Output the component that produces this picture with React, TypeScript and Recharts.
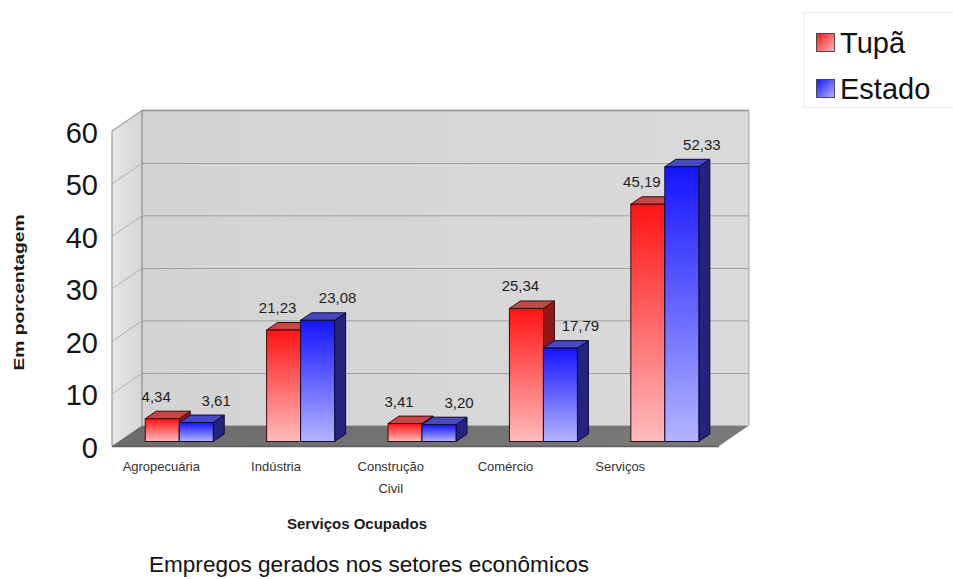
import React from 'react';
import { BarChart, Bar, XAxis, YAxis, ReferenceArea, LabelList, Legend } from 'recharts';

// Setores econômicos e participação no emprego (%)
const setores = ['Agropecuária', 'Indústria', 'Construção Civil', 'Comércio', 'Serviços'];
const tupa = [4.34, 21.23, 3.41, 25.34, 45.19];
const estado = [3.61, 23.08, 3.2, 17.79, 52.33];
const yTicks = [0, 10, 20, 30, 40, 50, 60];

const data = setores.map((setor, i) => ({ setor, tupa: tupa[i], estado: estado[i] }));

const FONT = "'Liberation Sans', Arial, Helvetica, sans-serif";

type Serie = {
  key: string;
  name: string;
  top: string;
  bottom: string;
  side: string;
  cap: string;
  edge: string;
  labelDx: number;
};

const SERIES: Serie[] = [
  { key: 'tupa', name: 'Tupã', top: '#ff1414', bottom: '#ffbcbc', side: '#8f1818', cap: '#c74646', edge: '#3a0a0a', labelDx: -6 },
  { key: 'estado', name: 'Estado', top: '#1414ff', bottom: '#b4b4ff', side: '#24247c', cap: '#4848bf', edge: '#0a0a3a', labelDx: 20 },
];

// depth of each 3D bar
const BAR_DX = 11;
const BAR_DY = -7.5;
// the bars stand a little behind the front edge of the floor
const FRONT = { dx: -7, dy: 4.5 };
const BACK = { dx: 23, dy: -16 };

const fmt = (v: number) => v.toFixed(2).replace('.', ',');

const makeBarShape = (s: Serie) => (props: any) => {
  const { x, y, width, height } = props;
  if (width == null || height == null || width <= 0) return <g />;
  const r = x + width;
  const b = y + height;
  return (
    <g>
      <polygon
        points={`${r},${y} ${r + BAR_DX},${y + BAR_DY} ${r + BAR_DX},${b + BAR_DY} ${r},${b}`}
        fill={s.side}
        stroke={s.edge}
        strokeWidth={1}
        strokeLinejoin="round"
      />
      <polygon
        points={`${x},${y} ${x + BAR_DX},${y + BAR_DY} ${r + BAR_DX},${y + BAR_DY} ${r},${y}`}
        fill={s.cap}
        stroke={s.edge}
        strokeWidth={1}
        strokeLinejoin="round"
      />
      <rect x={x} y={y} width={width} height={height} fill={`url(#face-${s.key})`} stroke={s.edge} strokeWidth={1} />
    </g>
  );
};

const makeValueLabel = (s: Serie) => (props: any) => {
  const { x, y, width, value } = props;
  if (value == null) return null;
  return (
    <text
      x={x + width / 2 + s.labelDx}
      y={y - 17}
      textAnchor="middle"
      fontSize={15}
      fontFamily={FONT}
      fill="#1e1e1e"
    >
      {fmt(Number(value))}
    </text>
  );
};

// one horizontal band of the 3D box (back wall slice, left wall slice, floor for the lowest band)
const makeWallBand = (withFloor: boolean) => (props: any) => {
  const { x, y, width, height } = props;
  const b = y + height;
  const fx = x + FRONT.dx;
  const bx = x + BACK.dx;
  return (
    <g>
      <rect x={bx} y={y + BACK.dy} width={width} height={height} fill="url(#backwall)" />
      <polygon
        points={`${fx},${y + FRONT.dy} ${bx},${y + BACK.dy} ${bx},${b + BACK.dy} ${fx},${b + FRONT.dy}`}
        fill="url(#sidewall)"
      />
      <line x1={bx} y1={y + BACK.dy} x2={bx + width} y2={y + BACK.dy} stroke="#8e8e8e" strokeWidth={1.3} />
      <line x1={fx} y1={y + FRONT.dy} x2={bx} y2={y + BACK.dy} stroke="#a2a2a2" strokeWidth={1.2} />
      <line x1={bx} y1={y + BACK.dy} x2={bx} y2={b + BACK.dy} stroke="#8a8a8a" strokeWidth={1.2} />
      <line x1={bx + width} y1={y + BACK.dy} x2={bx + width} y2={b + BACK.dy} stroke="#b0b0b0" strokeWidth={1.2} />
      <line x1={fx} y1={y + FRONT.dy} x2={fx} y2={b + FRONT.dy} stroke="#9a9a9a" strokeWidth={1.2} />
      {withFloor && (
        <g>
          <polygon
            points={`${fx},${b + FRONT.dy} ${fx + width},${b + FRONT.dy} ${bx + width},${b + BACK.dy} ${bx},${b + BACK.dy}`}
            fill="url(#floor)"
          />
          <line x1={fx} y1={b + FRONT.dy + 0.5} x2={fx + width} y2={b + FRONT.dy + 0.5} stroke="#5e5e5e" strokeWidth={1.5} />
        </g>
      )}
    </g>
  );
};

const YTick = (props: any) => {
  const { x, y, payload } = props;
  return (
    <text x={x} y={y + 6} textAnchor="end" dominantBaseline="central" fontSize={29} fontFamily={FONT} fill="#161616">
      {payload.value}
    </text>
  );
};

const XTick = (props: any) => {
  const { x, y, payload } = props;
  const lines = String(payload.value).split(' ');
  // category names sit on the front edge, which is drawn slightly narrower than the bar plane
  const cx = x * 0.945 - 8.5;
  return (
    <text x={cx} y={y + 29} textAnchor="middle" fontSize={13} fontFamily={FONT} fill="#333">
      {lines.map((ln, i) => (
        <tspan key={ln} x={cx} dy={i === 0 ? 0 : 22}>
          {ln}
        </tspan>
      ))}
    </text>
  );
};

const XTitle = (props: any) => {
  const vb = props.viewBox || { x: 0, y: 0 };
  return (
    <text
      x={vb.x + 238}
      y={vb.y + 87}
      textAnchor="middle"
      fontSize={15}
      fontWeight="bold"
      fontFamily={FONT}
      fill="#1a1a1a"
    >
      Serviços Ocupados
    </text>
  );
};

const YTitle = (props: any) => {
  const vb = props.viewBox || { x: 0, y: 0 };
  const cx = vb.x + 19;
  const cy = vb.y + 166;
  return (
    <text
      x={cx}
      y={cy}
      transform={`rotate(-90 ${cx} ${cy})`}
      textAnchor="middle"
      dominantBaseline="central"
      fontSize={14}
      fontWeight="bold"
      fontFamily={FONT}
      fill="#1a1a1a"
      textLength={156}
      lengthAdjust="spacingAndGlyphs"
    >
      Em porcentagem
    </text>
  );
};

const LegendBox = (props: any) => {
  const payload: any[] = props.payload || [];
  const items = SERIES.map((s) => {
    const p = payload.find((e) => e.dataKey === s.key);
    return { s, label: p ? p.value : s.name };
  });
  return (
    <svg width={152} height={96} style={{ display: 'block' }}>
      <defs>
        {SERIES.map((s) => (
          <linearGradient key={s.key} id={`legend-${s.key}`} x1="0" y1="0" x2="1" y2="1">
            <stop offset="0%" stopColor={s.top} />
            <stop offset="100%" stopColor={s.bottom} />
          </linearGradient>
        ))}
      </defs>
      <rect x={0.5} y={0.5} width={160} height={95} fill="#ffffff" stroke="#ececec" />
      {items.map(({ s, label }, i) => (
        <g key={s.key}>
          <rect x={13.5} y={21.5 + i * 46} width={18} height={18} fill={`url(#legend-${s.key})`} stroke="#4a4a4a" />
          <text x={37} y={31 + i * 46} dominantBaseline="central" fontSize={29} fontFamily={FONT} fill="#111">
            {label}
          </text>
        </g>
      ))}
    </svg>
  );
};

export default function App() {
  return (
    <div style={{ position: 'absolute', left: 0, top: 0, width: 953, height: 579, background: '#ffffff' }}>
      <BarChart
        width={953}
        height={579}
        data={data}
        margin={{ top: 126.5, right: 227, bottom: 0, left: 0 }}
        barCategoryGap="21.6%"
        barGap={0}
      >
        <defs>
          {SERIES.map((s) => (
            <linearGradient key={s.key} id={`face-${s.key}`} x1="0" y1="0" x2="0" y2="1">
              <stop offset="0%" stopColor={s.top} />
              <stop offset="100%" stopColor={s.bottom} />
            </linearGradient>
          ))}
          <linearGradient id="backwall" x1="0" y1="0" x2="1" y2="0">
            <stop offset="0%" stopColor="#d3d3d3" />
            <stop offset="100%" stopColor="#dadada" />
          </linearGradient>
          <linearGradient id="sidewall" x1="0" y1="0" x2="1" y2="0">
            <stop offset="0%" stopColor="#e6e6e6" />
            <stop offset="100%" stopColor="#d6d6d6" />
          </linearGradient>
          <linearGradient id="floor" x1="0" y1="0" x2="1" y2="0">
            <stop offset="0%" stopColor="#6c6c6c" />
            <stop offset="100%" stopColor="#7a7a7a" />
          </linearGradient>
        </defs>

        <XAxis
          dataKey="setor"
          axisLine={false}
          tickLine={false}
          tickSize={0}
          tickMargin={0}
          interval={0}
          height={137.5}
          tick={<XTick />}
          label={{ content: XTitle }}
        />
        <YAxis
          domain={[0, 60]}
          ticks={yTicks}
          axisLine={false}
          tickLine={false}
          tickSize={0}
          tickMargin={21}
          width={119}
          tick={<YTick />}
          label={{ content: YTitle }}
        />

        {yTicks.slice(0, -1).map((v, i) => (
          <ReferenceArea
            key={v}
            y1={v}
            y2={yTicks[i + 1]}
            ifOverflow="visible"
            shape={makeWallBand(i === 0)}
          />
        ))}

        <Legend
          layout="vertical"
          align="center"
          verticalAlign="middle"
          wrapperStyle={{ left: 803, top: 12, width: 152, height: 96 }}
          content={<LegendBox />}
        />

        {SERIES.map((s) => (
          <Bar
            key={s.key}
            dataKey={s.key}
            name={s.name}
            fill={s.top}
            isAnimationActive={false}
            shape={makeBarShape(s)}
          >
            <LabelList dataKey={s.key} content={makeValueLabel(s)} />
          </Bar>
        ))}
      </BarChart>
      <svg
        width={953}
        height={579}
        style={{ position: 'absolute', left: 0, top: 0, pointerEvents: 'none' }}
      >
        <text
          x={369}
          y={572}
          textAnchor="middle"
          fontSize={22}
          fontFamily={FONT}
          fill="#111"
          textLength={440}
          lengthAdjust="spacingAndGlyphs"
        >
          Empregos gerados nos setores econômicos
        </text>
      </svg>
    </div>
  );
}
